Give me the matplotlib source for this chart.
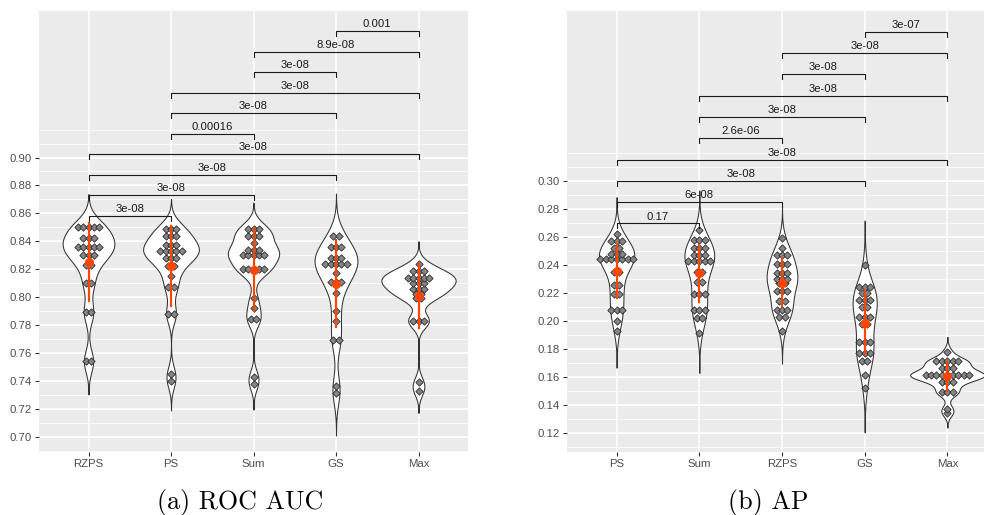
import numpy as np
import matplotlib.pyplot as plt

roc_methods = ['RZPS', 'PS', 'Sum', 'GS', 'Max']
roc_rzps = [0.850, 0.850, 0.850, 0.850, 0.850, 0.842, 0.842, 0.842,
            0.836, 0.836, 0.836, 0.836, 0.836, 0.830, 0.830, 0.830,
            0.823, 0.823, 0.810, 0.810, 0.789, 0.789, 0.754, 0.754]
roc_ps = [0.849, 0.849, 0.849, 0.844, 0.844, 0.844, 0.837, 0.837, 0.837,
          0.833, 0.833, 0.833, 0.833, 0.833, 0.828, 0.828, 0.828,
          0.822, 0.822, 0.815, 0.807, 0.807, 0.788, 0.788, 0.745, 0.740]
roc_sum = [0.849, 0.849, 0.849, 0.844, 0.844, 0.844, 0.839,
           0.834, 0.834, 0.834, 0.830, 0.830, 0.830, 0.830, 0.830,
           0.820, 0.820, 0.820, 0.820, 0.820, 0.799, 0.792,
           0.784, 0.784, 0.743, 0.738]
roc_gs = [0.844, 0.844, 0.836, 0.836, 0.836, 0.828, 0.828, 0.828,
          0.824, 0.824, 0.824, 0.824, 0.824, 0.817, 0.811, 0.811, 0.811,
          0.803, 0.790, 0.783, 0.769, 0.769, 0.736, 0.731]
roc_max = [0.824, 0.819, 0.819, 0.819, 0.814, 0.814, 0.814, 0.814, 0.814,
           0.810, 0.810, 0.810, 0.806, 0.806, 0.806, 0.802, 0.802,
           0.799, 0.799, 0.783, 0.783, 0.783, 0.739, 0.733]
roc_tests = [('RZPS', 'PS', '3e-08'), ('RZPS', 'Sum', '3e-08'),
             ('RZPS', 'GS', '3e-08'), ('RZPS', 'Max', '3e-08'),
             ('PS', 'Sum', '0.00016'), ('PS', 'GS', '3e-08'),
             ('PS', 'Max', '3e-08'), ('Sum', 'GS', '3e-08'),
             ('Sum', 'Max', '8.9e-08'), ('GS', 'Max', '0.001')]

# ---- AP (panel b) ----
ap_methods = ['PS', 'Sum', 'RZPS', 'GS', 'Max']
ap_ps = [0.262, 0.257, 0.257, 0.257, 0.252, 0.252, 0.248, 0.248, 0.248,
         0.244, 0.244, 0.244, 0.244, 0.244, 0.244, 0.244, 0.235, 0.235,
         0.226, 0.226, 0.219, 0.219, 0.208, 0.208, 0.208, 0.200, 0.193]
ap_sum = [0.265, 0.258, 0.258, 0.258, 0.252, 0.252, 0.252, 0.247, 0.247, 0.247,
          0.243, 0.243, 0.243, 0.243, 0.243, 0.235, 0.235, 0.228, 0.228,
          0.219, 0.219, 0.219, 0.208, 0.208, 0.208, 0.202, 0.202, 0.191]
ap_rzps = [0.259, 0.252, 0.247, 0.247, 0.247, 0.241, 0.241, 0.241,
           0.234, 0.234, 0.234, 0.230, 0.230, 0.230, 0.227, 0.227,
           0.221, 0.221, 0.221, 0.214, 0.214, 0.208, 0.208, 0.208,
           0.203, 0.203, 0.193]
ap_gs = [0.240, 0.224, 0.224, 0.224, 0.220, 0.220, 0.215, 0.215, 0.215,
         0.210, 0.210, 0.203, 0.203, 0.203, 0.198, 0.198,
         0.185, 0.185, 0.185, 0.177, 0.177, 0.177, 0.171, 0.171, 0.161, 0.152]
ap_max = [0.178, 0.171, 0.171, 0.171, 0.171, 0.171, 0.166, 0.166, 0.166,
          0.161, 0.161, 0.161, 0.161, 0.161, 0.161, 0.161, 0.161, 0.161,
          0.156, 0.156, 0.156, 0.149, 0.149, 0.149, 0.137, 0.134]
ap_tests = [('PS', 'Sum', '0.17'), ('PS', 'RZPS', '6e-08'),
            ('PS', 'GS', '3e-08'), ('PS', 'Max', '3e-08'),
            ('Sum', 'RZPS', '2.6e-06'), ('Sum', 'GS', '3e-08'),
            ('Sum', 'Max', '3e-08'), ('RZPS', 'GS', '3e-08'),
            ('RZPS', 'Max', '3e-08'), ('GS', 'Max', '3e-07')]

PANEL_BG = '#EBEBEB'
ORANGE = '#FF4500'
TICK_COL = '#4D4D4D'


def density(vals):
    # gaussian kde with R's nrd0 bandwidth, not trimmed (range +- 3 bw)
    v = np.asarray(vals)
    n = len(v)
    q75, q25 = np.percentile(v, [75, 25])
    bw = 0.9 * min(v.std(ddof=1), (q75 - q25) / 1.34) * n ** -0.2
    grid = np.linspace(v.min() - 3 * bw, v.max() + 3 * bw, 512)
    d = np.exp(-0.5 * ((grid[:, None] - v[None, :]) / bw) ** 2).sum(1)
    return grid, d / (n * bw * np.sqrt(2 * np.pi))


def draw_panel(ax, methods, groups, tests, ylim, majors, minors,
               br_base, br_step, caption, cap_x):
    ax.set_facecolor(PANEL_BG)
    for s in ax.spines.values():
        s.set_visible(False)
    for y in minors:
        ax.axhline(y, color='white', lw=0.55, zorder=0)
    for y in majors:
        ax.axhline(y, color='white', lw=1.1, zorder=0)
    pos = np.arange(1, len(methods) + 1)
    for p in pos:
        ax.axvline(p, color='white', lw=1.1, zorder=0)

    curves = [density(g) for g in groups]
    dmax = max(d.max() for _, d in curves)
    for p, (grid, d), vals in zip(pos, curves, groups):
        half = d / dmax * 0.45
        ax.fill_betweenx(grid, p - half, p + half, facecolor='white',
                         edgecolor='#333333', lw=0.75, zorder=2)
        # centred dot stacks
        uniq, cnt = np.unique(np.round(vals, 4), return_counts=True)
        for u, k in zip(uniq, cnt):
            xs = p + (np.arange(k) - (k - 1) / 2) * 0.066
            ax.scatter(xs, [u] * k, s=14, marker='D', facecolor='#858585',
                       edgecolor='#222222', linewidths=0.55, zorder=3)
        m = np.mean(vals)
        sd = np.std(vals, ddof=1)
        ax.plot([p, p], [m - sd, m + sd], color=ORANGE, lw=1.6, zorder=4)
        ax.plot(p, m, 'o', ms=5.5, color=ORANGE, zorder=5)

    idx = {name: i + 1 for i, name in enumerate(methods)}
    tip = 0.0036
    for i, (a, b, lab) in enumerate(tests):
        y = br_base + i * br_step
        xa, xb = idx[a], idx[b]
        ax.plot([xa, xa, xb, xb], [y - tip, y, y, y - tip], color='#1a1a1a',
                lw=0.8, zorder=6)
        ax.text((xa + xb) / 2, y + 0.0014, lab, ha='center', va='bottom',
                fontsize=8.1, color='#1a1a1a', family='Liberation Sans',
                zorder=7)

    ax.set_xlim(0.4, len(methods) + 0.6)
    ax.set_ylim(*ylim)
    ax.set_xticks(pos)
    ax.set_xticklabels(methods)
    ax.set_yticks(majors)
    ax.set_yticklabels([f'{v:.2f}' for v in majors])
    ax.tick_params(axis='both', length=3, width=0.8, color='#333333',
                   labelsize=8.2, labelcolor=TICK_COL, pad=2)
    for t in ax.get_xticklabels() + ax.get_yticklabels():
        t.set_family('Liberation Sans')
    ax.figure.text(cap_x, 1 - 502 / 515, caption, ha='center', va='center',
                   fontsize=18.7, family='cmr10')


fig = plt.figure(figsize=(9.84, 5.15), dpi=100)
ax1 = fig.add_axes([39 / 984, 1 - 452 / 515, 429 / 984, 441 / 515])
ax2 = fig.add_axes([567 / 984, 1 - 452 / 515, 430 / 984, 441 / 515])

draw_panel(ax1, roc_methods, [roc_rzps, roc_ps, roc_sum, roc_gs, roc_max],
           roc_tests, (0.689, 1.005), np.arange(0.70, 0.905, 0.02),
           np.arange(0.69, 0.925, 0.01), 0.8584, 0.01468,
           '(a) ROC AUC', 240 / 984)
draw_panel(ax2, ap_methods, [ap_ps, ap_sum, ap_rzps, ap_gs, ap_max],
           ap_tests, (0.1061, 0.4218), np.arange(0.12, 0.305, 0.02),
           np.arange(0.11, 0.325, 0.01), 0.2697, 0.01525,
           '(b) AP', 768 / 984)

fig.savefig('out.png', dpi=100)
